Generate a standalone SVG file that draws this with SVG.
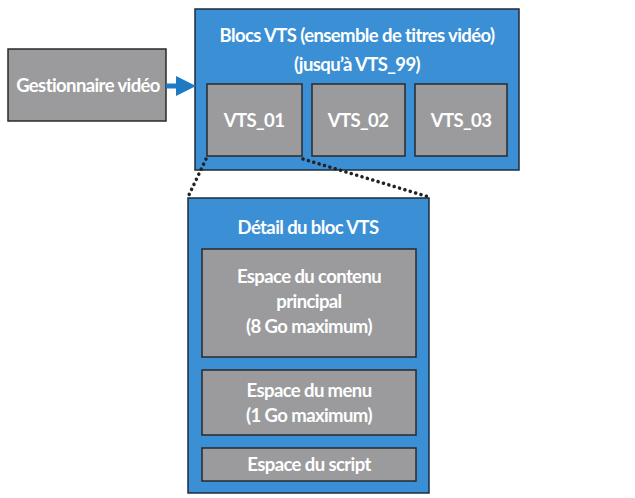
<svg xmlns="http://www.w3.org/2000/svg" width="635" height="498" viewBox="0 0 635 498">
<style>
.b{fill:#3b8fd4;stroke:#1e2d3c;stroke-width:1.5}
.g{fill:#9b9b9e;stroke:#2a2a2a;stroke-width:1.5}
text{font-family:Lato,"Liberation Sans",sans-serif;font-weight:bold;fill:#fff;text-anchor:middle;font-size:18.5px;letter-spacing:-0.6px}
.d{stroke:#222;stroke-width:3.5;stroke-dasharray:0.1 5.5;stroke-linecap:round;fill:none}
</style>
<defs><marker id="a" markerWidth="4" markerHeight="4" refX="2" refY="2" orient="auto"><path d="M0,0L4,2L0,4z" fill="#1f7ac4"/></marker></defs>
<rect width="635" height="498" fill="#fff"/>
<g id="gest"><rect class="g" x="8" y="49" width="158" height="72"/><text x="88" y="92">Gestionnaire vidéo</text></g>
<g id="blocs"><rect class="b" x="195" y="9" width="324" height="161"/><text x="357" y="42">Blocs VTS (ensemble de titres vidéo)</text><text x="357" y="71">(jusqu’à VTS_99)</text></g>
<g id="vts01"><rect class="g" x="207" y="84" width="95" height="72"/><text x="254" y="127">VTS_01</text></g>
<g id="vts02"><rect class="g" x="312" y="84" width="93" height="72"/><text x="358" y="127">VTS_02</text></g>
<g id="vts03"><rect class="g" x="415" y="84" width="92" height="72"/><text x="461" y="127">VTS_03</text></g>
<g id="detail"><rect class="b" x="188" y="198" width="241" height="295"/><text x="308" y="234">Détail du bloc VTS</text></g>
<g id="contenu"><rect class="g" x="202" y="249" width="214" height="108"/><text x="309" y="283">Espace du contenu</text><text x="309" y="308">principal</text><text x="309" y="333">(8 Go maximum)</text></g>
<g id="menu"><rect class="g" x="202" y="370" width="214" height="65"/><text x="309" y="397">Espace du menu</text><text x="309" y="422">(1 Go maximum)</text></g>
<g id="script"><rect class="g" x="202" y="448" width="214" height="33"/><text x="309" y="471">Espace du script</text></g>
<g id="connectors">
<line x1="166" y1="86" x2="186" y2="86" stroke="#1f7ac4" stroke-width="5" marker-end="url(#a)"/>
<line class="d" x1="206" y1="159" x2="188" y2="197"/>
<line class="d" x1="303" y1="159" x2="429" y2="197"/>
</g>
</svg>
